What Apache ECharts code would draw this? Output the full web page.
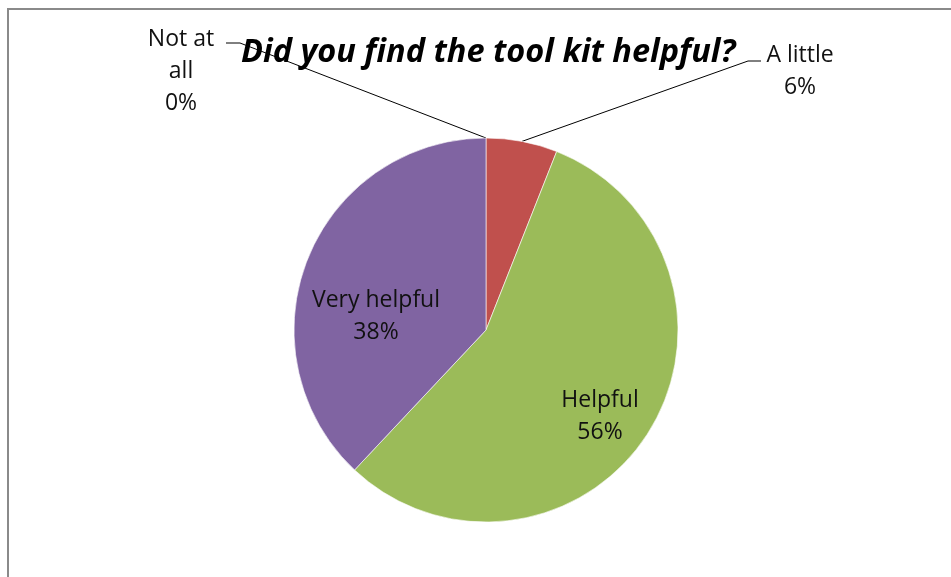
<!DOCTYPE html>
<html>
<head>
<meta charset="utf-8">
<script src="https://cdn.jsdelivr.net/npm/echarts@6/dist/echarts.min.js"></script>
<style>
html,body{margin:0;padding:0;background:#fff;}
#c{width:951px;height:577px;}
</style>
</head>
<body>
<div id="c"></div>
<script>
const titleText = 'Did you find the tool kit helpful?';
const categories = ['Not at all', 'A little', 'Helpful', 'Very helpful'];
const labelNames = ['Not at\nall', 'A little', 'Helpful', 'Very helpful'];
const values = [0, 3, 28, 19];
const colors = ['#4F81BD', '#C0504D', '#9BBB59', '#8064A2'];
const labelPositions = ['outside', 'outside', 'inside', 'inside'];

// label anchor positions (label layout only)
const labelSpots = [[181, 71], [800, 71], [600, 416], [376, 316]];
const elbowSpots = [[[240, 43], [226, 43]], [[748, 61], [761, 61]], null, null];

const chart = echarts.init(document.getElementById('c'), null, {renderer: 'canvas'});
const total = values.reduce((a, b) => a + b, 0);

chart.setOption({
  animation: false,
  backgroundColor: '#fff',
  graphic: [{
    type: 'rect',
    shape: {x: 8, y: 9, width: 1000, height: 700},
    style: {fill: 'none', stroke: '#8a8a8a', lineWidth: 2},
    silent: true,
    z: 100
  }],
  title: {
    text: titleText,
    left: 236,
    top: 31,
    textStyle: {
      fontFamily: 'Open Sans',
      fontStyle: 'italic',
      fontWeight: 'bold',
      fontSize: 32.5,
      color: '#000'
    }
  },
  series: [{
    type: 'pie',
    center: [486, 330],
    radius: 192,
    startAngle: 90,
    clockwise: true,
    stillShowZeroSum: true,
    avoidLabelOverlap: false,
    itemStyle: {borderColor: '#fff', borderWidth: 0.6},
    label: {
      fontFamily: 'Open Sans',
      fontSize: 23,
      lineHeight: 32,
      color: '#111',
      formatter: p => labelNames[p.dataIndex] + '\n' + Math.round(p.value / total * 100) + '%'
    },
    labelLine: {
      show: true,
      lineStyle: {color: '#000', width: 1}
    },
    labelLayout: function (params) {
      const i = params.dataIndex;
      const out = {
        x: labelSpots[i][0],
        y: labelSpots[i][1],
        align: 'center',
        verticalAlign: 'middle'
      };
      if (elbowSpots[i] && params.labelLinePoints) {
        out.labelLinePoints = [params.labelLinePoints[0], elbowSpots[i][0], elbowSpots[i][1]];
      }
      return out;
    },
    data: categories.map((name, i) => ({
      name: name,
      value: values[i],
      itemStyle: {color: colors[i]},
      label: {position: labelPositions[i]},
      labelLine: {show: labelPositions[i] === 'outside'}
    }))
  }]
});
</script>
</body>
</html>
